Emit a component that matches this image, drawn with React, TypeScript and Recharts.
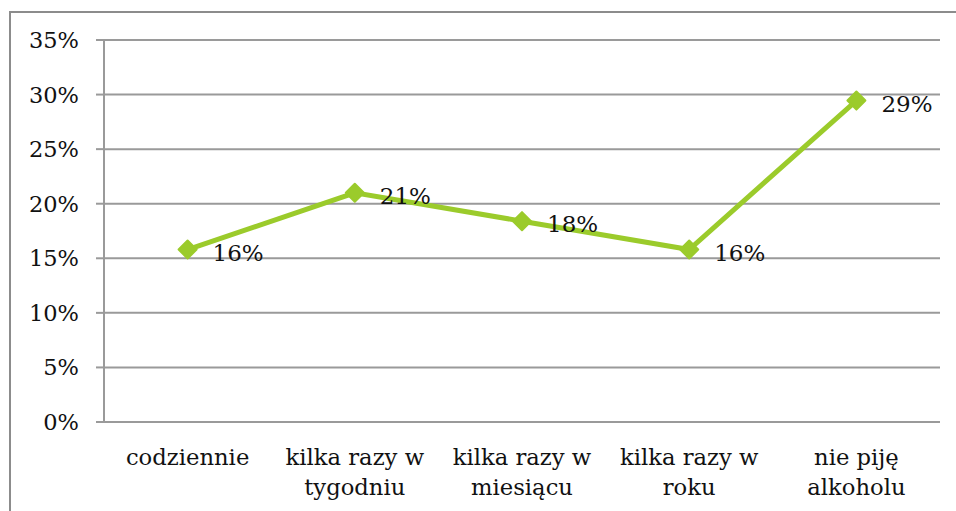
import { LineChart, Line, XAxis, YAxis, CartesianGrid } from 'recharts'

const CATEGORIES = [
  'codziennie',
  'kilka razy w\ntygodniu',
  'kilka razy w\nmiesiącu',
  'kilka razy w\nroku',
  'nie piję\nalkoholu',
]
const SHARE = [15.8, 21.0, 18.4, 15.8, 29.45]
const Y_TICKS = [0, 5, 10, 15, 20, 25, 30, 35]
const EDGE_TICKS = [0, 1, 2, 3, 4, 5]

const GREEN = '#9BCB2B'
const GRID = '#9a9a9a'
const FONT = '"DejaVu Serif", serif'

const data = CATEGORIES.map((name, i) => ({ name, value: SHARE[i] }))

function CategoryTick(props: any) {
  const { x, y, payload } = props
  const lines = String(payload.value).split('\n')
  return (
    <g>
      {lines.map((ln, i) => (
        <text
          key={i}
          x={x}
          y={y + 35 + i * 30}
          textAnchor="middle"
          dominantBaseline="central"
          fontSize={22.7}
          fontFamily={FONT}
          fill="#111"
        >
          {ln}
        </text>
      ))}
    </g>
  )
}

function Diamond(props: any) {
  const { cx, cy } = props
  if (cx == null || cy == null) return null
  const r = 9
  return (
    <polygon
      points={`${cx},${cy - r} ${cx + r},${cy} ${cx},${cy + r} ${cx - r},${cy}`}
      fill={GREEN}
      stroke={GREEN}
      strokeWidth={2}
      strokeLinejoin="round"
    />
  )
}

function ValueLabel(props: any) {
  const { x, y, value } = props
  return (
    <text
      x={x + 25}
      y={y + 3}
      dominantBaseline="central"
      fontSize={23}
      fontFamily={FONT}
      fill="#111"
    >
      {`${Math.round(value)}%`}
    </text>
  )
}

export default function App() {
  return (
    <div
      style={{
        position: 'absolute',
        left: 0,
        top: 0,
        width: 956,
        height: 511,
        overflow: 'hidden',
        background: '#fff',
      }}
    >
      <div
        style={{
          position: 'absolute',
          left: 9,
          top: 11,
          width: 1000,
          height: 600,
          border: '2px solid #8c8c8c',
        }}
      />
      <div style={{ position: 'absolute', left: 0, top: 0 }}>
        <LineChart
          width={956}
          height={511}
          data={data}
          margin={{ top: 40, right: 16, left: 0, bottom: 0 }}
        >
          <CartesianGrid vertical={false} stroke={GRID} strokeWidth={2} />
          <XAxis
            xAxisId="edges"
            type="number"
            domain={[0, 5]}
            allowDataOverflow
            ticks={EDGE_TICKS}
            height={0}
            tickSize={8}
            tickFormatter={() => ''}
            axisLine={{ stroke: GRID, strokeWidth: 2 }}
            tickLine={{ stroke: GRID, strokeWidth: 2 }}
          />
          <XAxis
            xAxisId="cat"
            dataKey="name"
            scale="band"
            height={89}
            axisLine={false}
            tickLine={false}
            tickSize={0}
            tickMargin={0}
            interval={0}
            tick={<CategoryTick />}
          />
          <YAxis
            domain={[0, 35]}
            ticks={Y_TICKS}
            width={104}
            tickSize={8}
            tickMargin={17}
            tickFormatter={(v) => `${v}%`}
            axisLine={{ stroke: GRID, strokeWidth: 2 }}
            tickLine={{ stroke: GRID, strokeWidth: 2 }}
            tick={{ fill: '#111', fontSize: 22.5, fontFamily: FONT }}
          />
          <Line
            xAxisId="cat"
            dataKey="value"
            stroke={GREEN}
            strokeWidth={5}
            dot={<Diamond />}
            activeDot={false}
            label={<ValueLabel />}
            isAnimationActive={false}
          />
        </LineChart>
      </div>
    </div>
  )
}
